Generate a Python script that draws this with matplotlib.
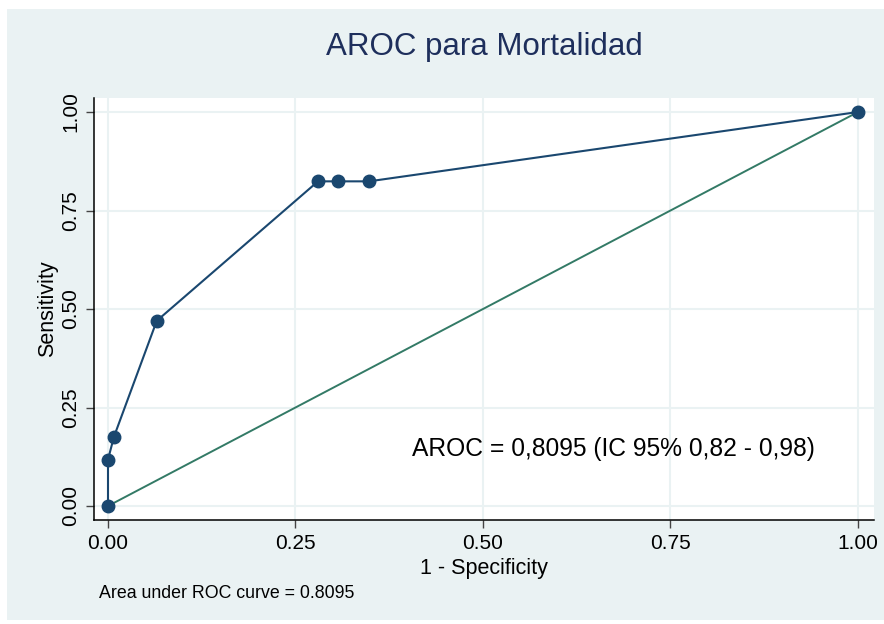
import matplotlib.pyplot as plt
from matplotlib.patches import Rectangle

# ROC points (1 - specificity, sensitivity)
fpr = [0.0, 0.0, 0.008, 0.065, 0.28, 0.307, 0.348, 1.0]
tpr = [0.0, 0.118, 0.176, 0.47, 0.824, 0.824, 0.824, 1.0]
ref_x = [0.0, 1.0]
ref_y = [0.0, 1.0]
ticks = [0.0, 0.25, 0.5, 0.75, 1.0]
tick_labels = ['0.00', '0.25', '0.50', '0.75', '1.00']

plt.rcParams['font.family'] = ['Liberation Sans', 'DejaVu Sans']

bg = '#eaf2f3'
navy = '#1a476f'
green = '#337a66'

fig = plt.figure(figsize=(8.84, 6.24), dpi=100, facecolor='white')
fig.patches.append(Rectangle((7/884, 4/624), 1 - 7/884, 1 - 13/624,
                             transform=fig.transFigure, facecolor=bg,
                             edgecolor='none', zorder=-10))

ax = fig.add_axes([94/884, 1 - 520/624, 780/884, 422/624])
ax.set_facecolor('white')

ax.plot(fpr, tpr, color=navy, lw=1.5, marker='o', ms=9,
        markerfacecolor=navy, markeredgecolor=navy, zorder=3)
ax.plot(ref_x, ref_y, color=green, lw=1.4, zorder=2)

ax.set_xlim(-14/750, 1 + 16/750)
ax.set_ylim(-14/394, 1 + 14/394)
ax.set_xticks(ticks)
ax.set_xticklabels(tick_labels)
ax.set_yticks(ticks)
ax.set_yticklabels(tick_labels, rotation=90, va='center')
ax.grid(True, color=bg, lw=1.5)
ax.set_axisbelow(True)

for s in ['top', 'right']:
    ax.spines[s].set_visible(False)
for s in ['left', 'bottom']:
    ax.spines[s].set_color('black')
    ax.spines[s].set_linewidth(1.1)
ax.tick_params(direction='out', length=6, width=1, colors='#444444',
               labelcolor='black', labelsize=15)
ax.tick_params(axis='x', pad=4)
ax.tick_params(axis='y', pad=4)

ax.set_xlabel('1 - Specificity', fontsize=15.5, labelpad=4)
ax.set_ylabel('Sensitivity', fontsize=15.5, labelpad=2)

ax.text(0.405, 0.145, 'AROC = 0,8095 (IC 95% 0,82 - 0,98)', fontsize=17.7,
        va='center', ha='left', color='black')

fig.text(484/884, 1 - 47/624, 'AROC para Mortalidad', ha='center',
         va='center', fontsize=22.5, color='#1e2f5c')
fig.text(99/884, 1 - 594/624, 'Area under ROC curve = 0.8095', ha='left',
         va='center', fontsize=12.8, color='black')

fig.savefig('out.png', dpi=100, facecolor='white')
